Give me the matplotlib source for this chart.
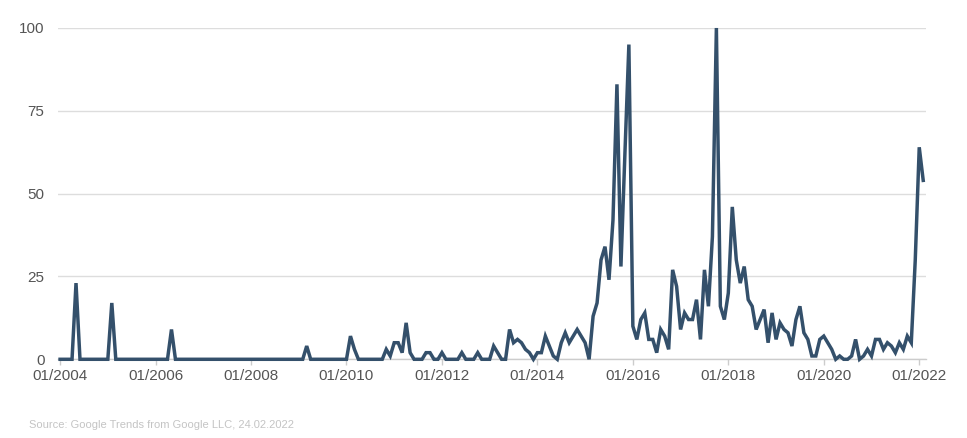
import matplotlib.pyplot as plt
import numpy as np

plt.rcParams['font.family'] = ['Liberation Sans', 'DejaVu Sans']

# monthly Google Trends index, 01/2004 .. 02/2022
interest = [
    0, 0, 0, 0, 23, 0, 0, 0, 0, 0, 0, 0,           # 2004
    0, 17, 0, 0, 0, 0, 0, 0, 0, 0, 0, 0,           # 2005
    0, 0, 0, 0, 9, 0, 0, 0, 0, 0, 0, 0,            # 2006
    0, 0, 0, 0, 0, 0, 0, 0, 0, 0, 0, 0,            # 2007
    0, 0, 0, 0, 0, 0, 0, 0, 0, 0, 0, 0,            # 2008
    0, 0, 4, 0, 0, 0, 0, 0, 0, 0, 0, 0,            # 2009
    0, 7, 3, 0, 0, 0, 0, 0, 0, 0, 3, 1,            # 2010
    5, 5, 2, 11, 2, 0, 0, 0, 2, 2, 0, 0,           # 2011
    2, 0, 0, 0, 0, 2, 0, 0, 0, 2, 0, 0,            # 2012
    0, 4, 2, 0, 0, 9, 5, 6, 5, 3, 2, 0,            # 2013
    2, 2, 7, 4, 1, 0, 5, 8, 5, 7, 9, 7,            # 2014
    5, 0, 13, 17, 30, 34, 24, 42, 83, 28, 62, 95,  # 2015
    10, 6, 12, 14, 6, 6, 2, 9, 7, 3, 27, 22,       # 2016
    9, 14, 12, 12, 18, 6, 27, 16, 37, 100, 16, 12, # 2017
    20, 46, 30, 23, 28, 18, 16, 9, 12, 15, 5, 14,  # 2018
    6, 11, 9, 8, 4, 12, 16, 8, 6, 1, 1, 6,         # 2019
    7, 5, 3, 0, 1, 0, 0, 1, 6, 0, 1, 3,            # 2020
    1, 6, 6, 3, 5, 4, 2, 5, 3, 7, 5, 30,           # 2021
    64, 54,                                        # 2022
]
tick_years = list(range(2004, 2023, 2))
tick_labels = ['01/%d' % y for y in tick_years]
y_ticks = [0, 25, 50, 75, 100]

months = np.arange(len(interest))
tick_pos = [(y - 2004) * 12 for y in tick_years]

fig = plt.figure(figsize=(9.67, 4.38), dpi=100)
ax = fig.add_axes([0.0603, 0.1797, 0.8973, 0.7564])

ax.plot(months, interest, color='#34506b', linewidth=2.5, clip_on=False,
        solid_joinstyle='miter', zorder=3)

ax.set_xlim(-0.45, 217.7)
ax.set_ylim(0, 100)
ax.set_yticks(y_ticks)
ax.set_yticklabels([str(v) for v in y_ticks])
ax.set_xticks(tick_pos)
ax.set_xticklabels(tick_labels)

ax.grid(axis='y', color='#dddddd', linewidth=1)
ax.set_axisbelow(True)
for side in ['top', 'right', 'left']:
    ax.spines[side].set_visible(False)
ax.spines['bottom'].set_color('#cccccc')
ax.spines['bottom'].set_linewidth(1)

ax.tick_params(axis='y', length=0, pad=10, labelsize=11, labelcolor='#555555')
ax.tick_params(axis='x', length=4, width=1, color='#cccccc', pad=3,
               labelsize=11, labelcolor='#555555')

fig.text(0.030, 0.022, 'Source: Google Trends from Google LLC, 24.02.2022',
         fontsize=8, color='#c4c4c4')

fig.savefig('out.png', dpi=100)
